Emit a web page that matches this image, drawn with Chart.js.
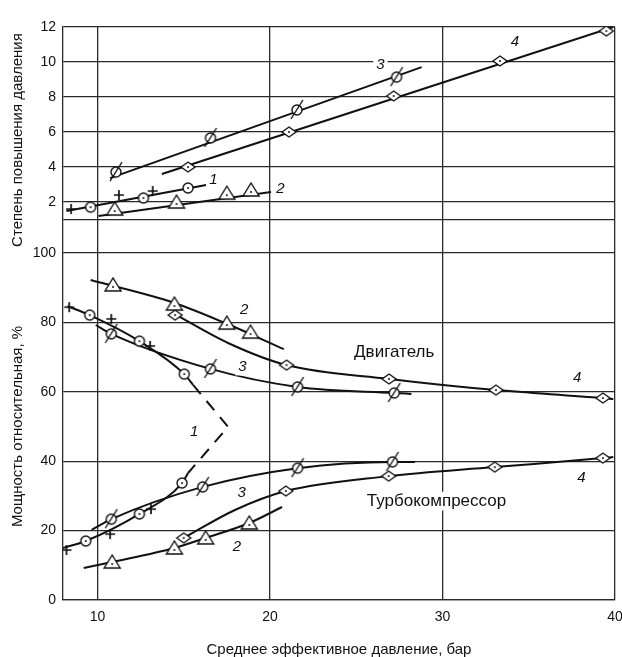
<!DOCTYPE html>
<html>
<head>
<meta charset="utf-8">
<script src="https://cdn.jsdelivr.net/npm/chart.js"></script>
<style>
  html, body { margin: 0; background: #fff; }
  #wrap { width: 622px; height: 657px; }
</style>
</head>
<body>
<div id="wrap"><canvas id="myChart"></canvas></div>
<script>
// ticks
const xTicks = [10, 20, 30, 40];
const topTicks = [1, 2, 4, 6, 8, 10, 12];      // 1 is a grid line only
const bottomTicks = [0, 20, 40, 60, 80, 100];

// upper panel: pressure ratio  [x, y]
const prLine1 = [[8.2, 1.49], [16.3, 2.97]];
const prCircles1 = [[9.6, 1.71], [12.66, 2.23], [15.25, 2.8]];
const prCrosses1 = [[8.47, 1.6], [11.24, 2.4], [13.2, 2.63]];
const prLine2 = [[10.06, 1.2], [20.06, 2.57]];
const prTriangles2 = [[11.0, 1.6], [14.58, 2.0], [17.5, 2.51], [18.9, 2.69]];
const prLine3 = [[10.73, 3.37], [28.79, 9.71]];
const prSlashed3 = [[11.07, 3.71], [16.55, 5.66], [21.56, 7.26], [27.34, 9.14]];
const prLine4 = [[13.73, 3.6], [39.9, 12.0]];
const prDiamonds4 = [[15.25, 4.0], [21.1, 6.0], [27.17, 8.06], [33.33, 10.06], [39.5, 11.77]];

// lower panel: engine power, %
const enLine1 = [[8.25, 84.7], [9.55, 82.1], [12.43, 74.6], [15.03, 65.1], [15.54, 62.0]];
const enCircles1 = [[9.55, 82.1], [12.43, 74.6], [15.03, 65.1]];
const enCrosses1 = [[8.36, 84.4], [10.8, 81.0], [13.05, 73.2]];
const dash1 = [[15.54, 62.0], [17.57, 49.9], [15.25, 36.6]];
const enLine2 = [[9.6, 92.2], [14.46, 85.6], [17.5, 79.6], [20.8, 72.3]];
const enTriangles2 = [[10.9, 90.8], [14.46, 85.3], [17.5, 79.8], [18.87, 77.2]];
const enLine3 = [[9.9, 79.25], [10.8, 76.7], [16.55, 66.6], [21.6, 61.4], [27.2, 59.65], [28.2, 59.4]];
const enSlashed3 = [[10.8, 76.7], [16.55, 66.6], [21.6, 61.4], [27.2, 59.65]];
const enLine4 = [[14.4, 82.6], [17.6, 74.0], [20.96, 67.7], [26.9, 63.7], [33.1, 60.5], [39.3, 58.2], [39.9, 57.9]];
const enDiamonds4 = [[14.5, 82.1], [20.96, 67.7], [26.9, 63.7], [33.1, 60.5], [39.3, 58.2]];

// lower panel: turbocharger power, %
const tuLine1 = [[8.0, 15.0], [9.32, 17.0], [12.43, 24.8], [14.9, 33.7], [15.25, 36.6]];
const tuCircles1 = [[9.32, 17.0], [12.43, 24.8], [14.9, 33.7]];
const tuCrosses1 = [[8.2, 14.4], [10.73, 19.0], [13.1, 26.2]];
const tuLine2 = [[9.2, 9.2], [10.85, 10.95], [14.46, 15.0], [16.27, 17.9], [18.8, 22.2], [20.7, 26.8]];
const tuTriangles2 = [[10.85, 10.95], [14.46, 15.0], [16.27, 17.9], [18.8, 22.2]];
const tuLine3 = [[9.66, 20.2], [10.8, 23.3], [16.1, 32.6], [21.6, 38.0], [27.1, 39.8], [28.4, 39.8]];
const tuSlashed3 = [[10.8, 23.3], [16.1, 32.6], [21.6, 38.0], [27.1, 39.8]];
const tuLine4 = [[15.0, 17.9], [18.0, 26.0], [20.92, 31.4], [26.88, 35.7], [33.03, 38.3], [39.3, 40.9], [39.9, 41.2]];
const tuDiamonds4 = [[15.0, 17.9], [20.92, 31.4], [26.88, 35.7], [33.03, 38.3], [39.3, 40.9]];

// annotations [text, x, y, axis]
const notes = [
  ['1', 16.72, 3.26, 'yTop'], ['2', 20.6, 2.74, 'yTop'], ['3', 26.4, 9.83, 'yTop'], ['4', 34.2, 11.14, 'yTop'],
  ['2', 18.5, 83.6, 'yBot'], ['3', 18.4, 67.1, 'yBot'], ['4', 37.8, 64.0, 'yBot'], ['1', 15.6, 48.4, 'yBot'],
  ['3', 18.36, 30.8, 'yBot'], ['2', 18.08, 15.3, 'yBot'], ['4', 38.06, 35.2, 'yBot'],
  ['Двигатель', 27.2, 71.5, 'yBot'], ['Турбокомпрессор', 29.65, 28.5, 'yBot']
];

const FONT = "'Liberation Sans', Arial, sans-serif";
const INK = '#111';
const GRID = '#2a2a2a';

function marker(kind) {
  const c = document.createElement('canvas');
  c.width = 30; c.height = 30;
  const g = c.getContext('2d');
  g.translate(15, 15);
  g.strokeStyle = INK; g.fillStyle = '#fff'; g.lineWidth = 1.4;
  const dot = (y) => { g.fillStyle = INK; g.beginPath(); g.arc(0, y || 0, 1, 0, Math.PI * 2); g.fill(); };
  if (kind === 'cross') {
    g.lineWidth = 1.7;
    g.beginPath(); g.moveTo(-5, 0); g.lineTo(5, 0); g.moveTo(0, -5); g.lineTo(0, 5); g.stroke();
  } else if (kind === 'diamond') {
    g.beginPath(); g.moveTo(-7, 0); g.lineTo(0, -5); g.lineTo(7, 0); g.lineTo(0, 5); g.closePath();
    g.fill(); g.stroke(); dot();
  } else if (kind === 'triangle') {
    g.beginPath(); g.moveTo(0, -7); g.lineTo(8, 6); g.lineTo(-8, 6); g.closePath();
    g.fill(); g.stroke(); dot(2);
  } else {
    g.beginPath(); g.arc(0, 0, 5, 0, Math.PI * 2); g.fill(); g.stroke();
    if (kind === 'slash') {
      g.beginPath(); g.moveTo(-6, 9); g.lineTo(6, -10); g.stroke();
    } else dot();
  }
  return c;
}
const M = {circle: marker('circle'), cross: marker('cross'), slash: marker('slash'),
           diamond: marker('diamond'), triangle: marker('triangle')};

const pts = a => a.map(p => ({x: p[0], y: p[1]}));
function line(data, axis, extra) {
  return Object.assign({data: pts(data), yAxisID: axis, showLine: true, borderColor: INK, borderWidth: 2,
    pointRadius: 0, tension: 0.4, cubicInterpolationMode: 'monotone', order: 2}, extra || {});
}
function marks(data, axis, style) {
  return {data: pts(data), yAxisID: axis, showLine: false, pointStyle: style, pointRadius: 6, order: 1};
}

const notesPlugin = {
  id: 'notes',
  beforeDraw(chart) {
    const ctx = chart.ctx;
    ctx.save(); ctx.fillStyle = '#fff'; ctx.fillRect(0, 0, chart.width, chart.height); ctx.restore();
  },
  afterDatasetsDraw(chart) {
    const ctx = chart.ctx;
    ctx.save();
    ctx.textAlign = 'center'; ctx.textBaseline = 'middle';
    notes.forEach(n => {
      const px = chart.scales.x.getPixelForValue(n[1]);
      const py = chart.scales[n[3]].getPixelForValue(n[2]);
      const digit = /^\d$/.test(n[0]);
      const size = digit ? 15 : 17;
      ctx.font = (digit ? 'italic ' : '') + size + 'px ' + FONT;
      const w = ctx.measureText(n[0]).width;
      ctx.fillStyle = '#fff';
      ctx.fillRect(px - w / 2 - 3, py - size * 0.55, w + 6, size * 1.1);
      ctx.fillStyle = INK;
      ctx.fillText(n[0], px, py);
    });
    ctx.restore();
  }
};

const yCommon = {
  type: 'linear', position: 'left', stack: 'panels',
  grid: {color: GRID, lineWidth: 1.3, drawTicks: false},
  border: {display: true, color: GRID, width: 1.3},
  ticks: {color: INK, padding: 7, autoSkip: false, font: {family: FONT, size: 14}},
  afterFit: s => { s.width = 63; }
};

new Chart(document.getElementById('myChart'), {
  type: 'scatter',
  data: {
    datasets: [
      line(prLine1, 'yTop', {tension: 0}), marks(prCircles1, 'yTop', M.circle), marks(prCrosses1, 'yTop', M.cross),
      line(prLine2, 'yTop', {tension: 0}), marks(prTriangles2, 'yTop', M.triangle),
      line(prLine3, 'yTop', {tension: 0}), marks(prSlashed3, 'yTop', M.slash),
      line(prLine4, 'yTop', {tension: 0}), marks(prDiamonds4, 'yTop', M.diamond),

      line(enLine1, 'yBot'), marks(enCircles1, 'yBot', M.circle), marks(enCrosses1, 'yBot', M.cross),
      line(dash1, 'yBot', {tension: 0, cubicInterpolationMode: 'default', borderDash: [12, 9]}),
      line(enLine2, 'yBot'), marks(enTriangles2, 'yBot', M.triangle),
      line(enLine3, 'yBot'), marks(enSlashed3, 'yBot', M.slash),
      line(enLine4, 'yBot'), marks(enDiamonds4, 'yBot', M.diamond),

      line(tuLine1, 'yBot'), marks(tuCircles1, 'yBot', M.circle), marks(tuCrosses1, 'yBot', M.cross),
      line(tuLine2, 'yBot'), marks(tuTriangles2, 'yBot', M.triangle),
      line(tuLine3, 'yBot'), marks(tuSlashed3, 'yBot', M.slash),
      line(tuLine4, 'yBot'), marks(tuDiamonds4, 'yBot', M.diamond)
    ]
  },
  options: {
    responsive: true,
    maintainAspectRatio: false,
    animation: false,
    layout: {padding: {top: 27, right: 6, left: 0, bottom: 0}},
    plugins: {legend: {display: false}, tooltip: {enabled: false}},
    scales: {
      x: {
        type: 'linear', min: 8, max: 40,
        afterBuildTicks: s => { s.ticks = xTicks.map(v => ({value: v})); },
        grid: {color: GRID, lineWidth: 1.3, drawTicks: false},
        border: {display: true, color: GRID, width: 1.3},
        ticks: {color: INK, padding: 9, autoSkip: false, maxRotation: 0, font: {family: FONT, size: 14}},
        title: {display: true, text: 'Среднее эффективное давление, бар', color: INK,
                font: {family: FONT, size: 15, lineHeight: 0.9}, padding: 0},
        afterFit: s => { s.height = 57; s.paddingRight = 0; s.paddingLeft = 0; }
      },
      yBot: Object.assign({}, yCommon, {
        min: 0, max: 100, stackWeight: 347,
        afterBuildTicks: s => { s.ticks = bottomTicks.map(v => ({value: v})); },
        title: {display: true, text: 'Мощность относительная, %', color: INK,
                font: {family: FONT, size: 15}, padding: {top: 9}}
      }),
      yTop: Object.assign({}, yCommon, {
        min: -0.91, max: 12, stackWeight: 226,
        afterBuildTicks: s => { s.ticks = topTicks.map(v => ({value: v})); },
        ticks: Object.assign({}, yCommon.ticks, {callback: v => (v === 1 ? '' : v)}),
        title: {display: true, text: 'Степень повышения давления', color: INK,
                font: {family: FONT, size: 15}, padding: {top: 9}}
      })
    }
  },
  plugins: [notesPlugin]
});
</script>
</body>
</html>
